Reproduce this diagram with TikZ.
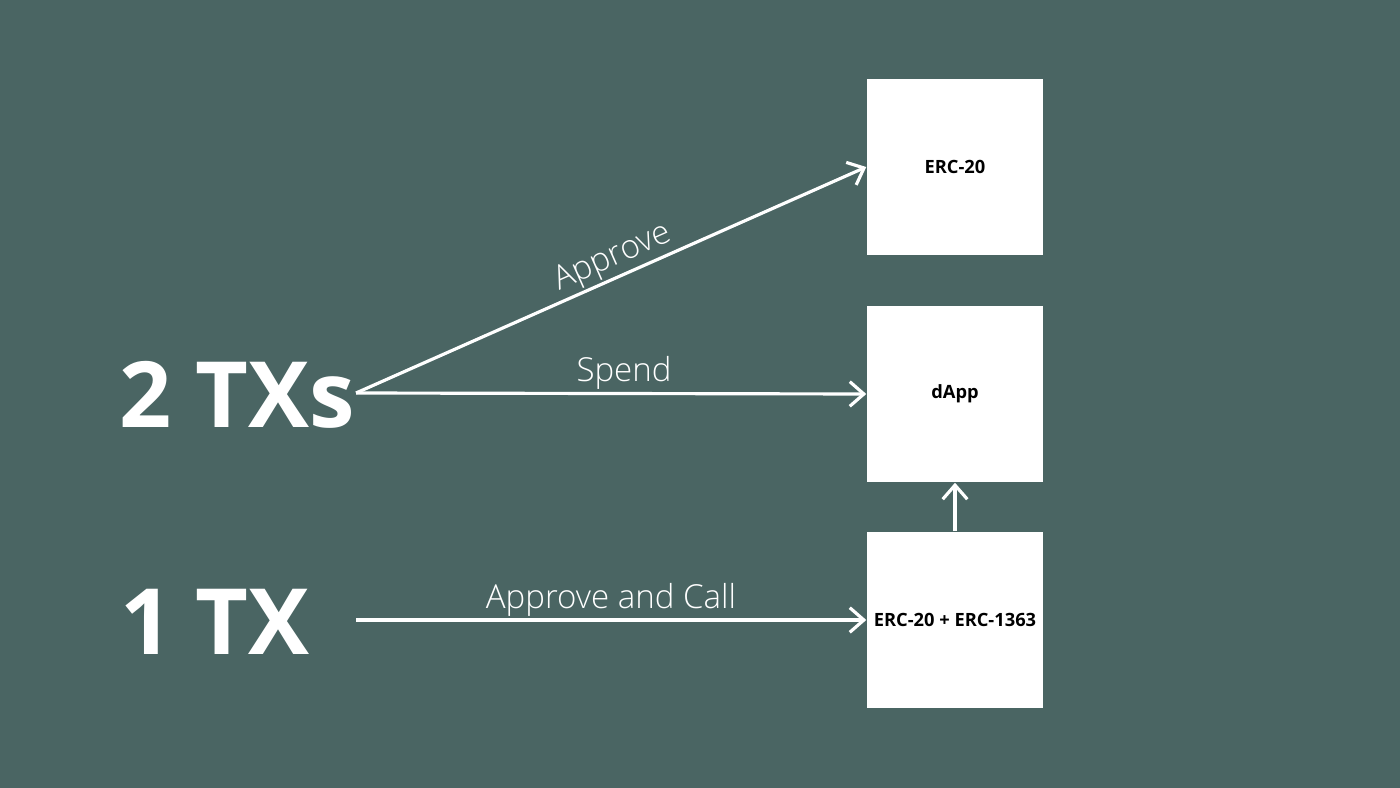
\documentclass[tikz,border=0pt]{standalone}
\usepackage{fontspec}
\setmainfont{Open Sans}
\usetikzlibrary{arrows.meta}
\definecolor{bg}{HTML}{4A6563}
\begin{document}
\begin{tikzpicture}[x=0.01cm,y=-0.01cm,
  box/.style={draw=none,fill=white,minimum width=1.76cm,minimum height=1.76cm,inner sep=0,font=\fontsize{5.2}{6}\selectfont\bfseries},
  arr/.style={draw=white,line width=0.9pt,-{Straight Barb[length=4pt,width=7pt]}},
  lab/.style={text=white,font=\fontsize{9.4}{10}\selectfont\fontspec{Open Sans Light}},
  big/.style={text=white,font=\fontsize{26}{28}\selectfont\bfseries}]
\fill[bg] (0,0) rectangle (1400,788);
\useasboundingbox (0,0) rectangle (1400,788);
\node[box] (erc) at (955,167) {ERC-20};
\node[box] (dapp) at (955,394) {dApp};
\node[box] (e1363) at (955,620) {ERC-20 + ERC-1363};
\node[big] (two) at (237,395) {2 TXs};
\node[big] (one) at (215,622) {1 TX};
\coordinate (s2) at (356,393);
\coordinate (s1) at (356,620);
\draw[arr] (s2) -- (erc.west);
\draw[arr] (s2) -- (dapp.west);
\draw[arr] (s1) -- (e1363.west);
\draw[arr] (e1363.north) -- (dapp.south);
\node[lab,rotate=23.9] (ap) at (613,258) {Approve};
\node[lab] (sp) at (624,373) {Spend};
\node[lab] (ac) at (611,600) {Approve and Call};
\end{tikzpicture}
\end{document}
